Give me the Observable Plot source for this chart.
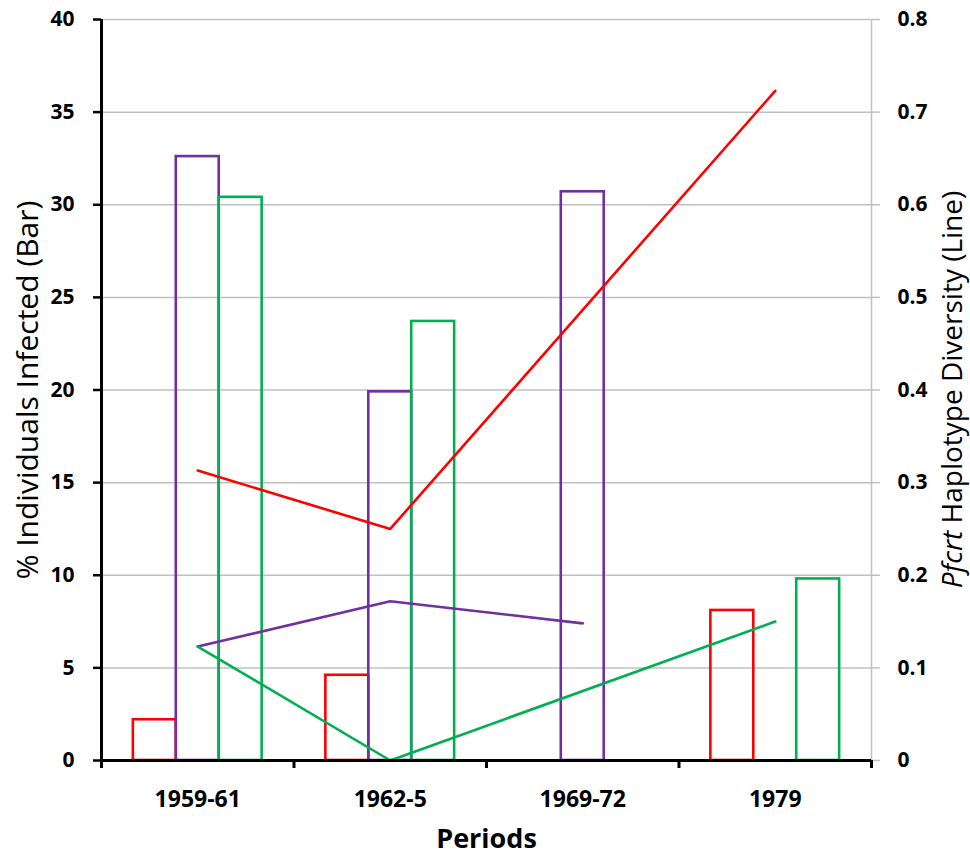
<!DOCTYPE html>
<html>
<head>
<meta charset="utf-8">
<script src="https://cdn.jsdelivr.net/npm/d3@7"></script>
<script src="https://cdn.jsdelivr.net/npm/@observablehq/plot@0.6"></script>
<style>
  html, body { margin: 0; padding: 0; background: #fff; }
  #chart svg { display: block; }
</style>
</head>
<body>
<div id="chart"></div>
<script>
// ---- data ----
const periods = ["1959-61", "1962-5", "1969-72", "1979"];
const infectedRed    = [2.2, 4.6, null, 8.1];
const infectedPurple = [32.6, 19.9, 30.7, null];
const infectedGreen  = [30.4, 23.7, null, 9.8];
const diversityRed    = [0.313, 0.250, null, 0.723];
const diversityPurple = [0.123, 0.172, 0.148, null];
const diversityGreen  = [0.123, 0.000, null, 0.150];
const leftTicks  = [0, 5, 10, 15, 20, 25, 30, 35, 40];
const rightTicks = [0, 0.1, 0.2, 0.3, 0.4, 0.5, 0.6, 0.7, 0.8];

const colors = {red: "#ff0000", purple: "#7030a0", green: "#00b050"};
const series = [
  {key: "red", bars: infectedRed, line: diversityRed},
  {key: "purple", bars: infectedPurple, line: diversityPurple},
  {key: "green", bars: infectedGreen, line: diversityGreen}
];
const ratio = 40 / 0.8;  // right axis maps onto left axis
const barW = 0.223;      // bar width as a fraction of a period slot

const barMarks = series.map((s, si) => {
  const rows = s.bars.map((v, i) => ({i, v})).filter(d => d.v != null);
  return Plot.rectY(rows, {
    x1: d => d.i + 0.5 + (si - 1.5) * barW,
    x2: d => d.i + 0.5 + (si - 0.5) * barW,
    y: "v",
    fill: "none",
    stroke: colors[s.key],
    strokeWidth: 2.6
  });
});
const lineMarks = series.map(s => {
  const rows = s.line.map((v, i) => ({i, v})).filter(d => d.v != null);
  return Plot.line(rows, {
    x: d => d.i + 0.5,
    y: d => d.v * ratio,
    stroke: colors[s.key],
    strokeWidth: 2.6
  });
});

const chart = Plot.plot({
  width: 970,
  height: 856,
  marginLeft: 101,
  marginRight: 99,
  marginTop: 19,
  marginBottom: 96,
  style: {fontFamily: "'Open Sans', sans-serif", fontWeight: "bold", color: "black", background: "white"},
  x: {domain: [0, 4], axis: null},
  y: {domain: [0, 40], axis: null},
  marks: [
    Plot.ruleY(leftTicks.slice(1), {stroke: "#c0c0c0", strokeWidth: 1.5}),
    Plot.ruleX([4], {stroke: "#c0c0c0", strokeWidth: 1.5}),
    ...barMarks,
    ...lineMarks,
    Plot.ruleY([0], {stroke: "black", strokeWidth: 3}),
    Plot.ruleX([0], {stroke: "black", strokeWidth: 3}),
    Plot.axisY({anchor: "left", ticks: leftTicks, tickSize: 8, tickPadding: 19,
      strokeWidth: 2.5, fontSize: 21, tickFormat: d => String(d), label: null}),
    Plot.axisY({anchor: "right", ticks: leftTicks, tickSize: 8, tickPadding: 18,
      stroke: "#c0c0c0", strokeWidth: 1.5, fill: "black", fontSize: 21,
      tickFormat: (d, k) => String(rightTicks[k]), label: null}),
    Plot.axisX({anchor: "bottom", ticks: [0, 1, 2, 3, 4], tickSize: 8, strokeWidth: 3,
      tickFormat: () => "", label: null}),
    Plot.axisX({anchor: "bottom", ticks: [0.5, 1.5, 2.5, 3.5], tickSize: 0, tickPadding: 30,
      fontSize: 23, tickFormat: d => periods[Math.floor(d)], label: null}),
    Plot.text(["% Individuals Infected (Bar)"], {frameAnchor: "left", rotate: -90, dx: -73,
      fontSize: 30, fontWeight: "normal", textAnchor: "middle", lineAnchor: "middle"}),
    Plot.text(["Periods"], {frameAnchor: "bottom", dy: 79, fontSize: 27,
      fontWeight: "bold", textAnchor: "middle", lineAnchor: "middle"})
  ]
});
document.getElementById("chart").appendChild(chart);

// right axis title with the italic gene name
const svg = d3.select(chart);
const t = svg.append("text")
  .attr("transform", "translate(952," + ((19 + 760) / 2) + ") rotate(-90)")
  .attr("text-anchor", "middle")
  .attr("dy", "0.35em")
  .attr("font-size", 28)
  .attr("font-weight", "normal")
  .attr("fill", "black");
t.append("tspan").attr("font-style", "italic").text("Pfcrt");
t.append("tspan").text(" Haplotype Diversity (Line)");
</script>
</body>
</html>
